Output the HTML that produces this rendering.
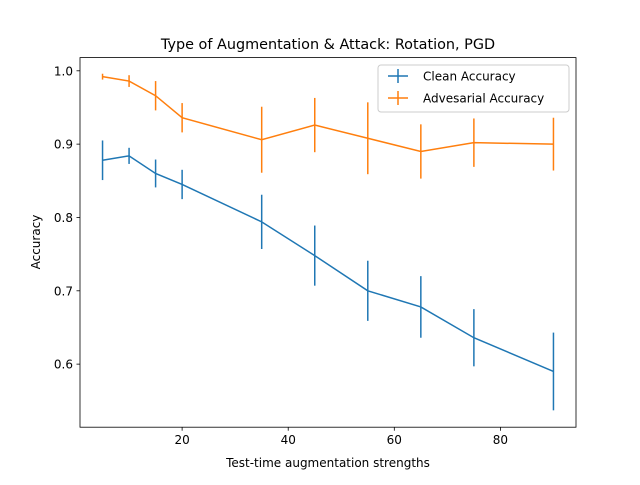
<!DOCTYPE html>
<html><head><meta charset="utf-8"><style>body{margin:0;background:#fff}svg{font-family:"DejaVu Sans","Liberation Sans",sans-serif}</style></head>
<body>
<svg id="chart" width="640" height="480" viewBox="0 0 640 480">
<rect width="640" height="480" fill="#fff"/>
<text x="328" y="49" font-size="14.4" text-anchor="middle">Type of Augmentation &amp; Attack: Rotation, PGD</text>
<text x="328" y="467" font-size="12" text-anchor="middle">Test-time augmentation strengths</text>
<text x="0" y="0" font-size="12" text-anchor="middle" transform="translate(40,242) rotate(-90)">Accuracy</text>
<g id="plot"></g>
<rect x="80" y="57.6" width="496" height="369.6" fill="none" stroke="#000" stroke-width="0.8"/>
<g>
<rect x="378" y="65" width="191" height="47" fill="#fff" fill-opacity="0.8" stroke="#ccc" rx="3"/>
<g><line x1="388" x2="408" y1="76" y2="76" stroke="#1f77b4" stroke-width="1.5"/><line x1="398" x2="398" y1="69" y2="83" stroke="#1f77b4" stroke-width="1.5"/><text x="423" y="80.5" font-size="12">Clean Accuracy</text></g>
<g><line x1="388" x2="408" y1="98" y2="98" stroke="#ff7f0e" stroke-width="1.5"/><line x1="398" x2="398" y1="91" y2="105" stroke="#ff7f0e" stroke-width="1.5"/><text x="423" y="102.5" font-size="12">Advesarial Accuracy</text></g>
</g>
</svg>
<script>
const xValues=[5,10,15,20,35,45,55,65,75,90];
const cleanAcc=[0.878,0.884,0.860,0.845,0.794,0.748,0.700,0.678,0.636,0.590];
const cleanErr=[0.027,0.011,0.019,0.020,0.037,0.041,0.041,0.042,0.039,0.053];
const advAcc=[0.992,0.986,0.966,0.936,0.906,0.926,0.908,0.890,0.902,0.900];
const advErr=[0.004,0.008,0.020,0.020,0.045,0.037,0.049,0.037,0.033,0.036];
const xTicks=[20,40,60,80];
const yTicks=[0.6,0.7,0.8,0.9,1.0];
const NS="http://www.w3.org/2000/svg";
const X0=80,X1=576,Y0=427.2,Y1=57.6;
const xmin=0.75,xmax=94.25;
const ymin=0.514,ymax=1.018;
const sx=v=>X0+(v-xmin)/(xmax-xmin)*(X1-X0);
const sy=v=>Y0-(v-ymin)/(ymax-ymin)*(Y0-Y1);
const g=document.getElementById('plot');
function mk(t,a){const e=document.createElementNS(NS,t);for(const k in a)e.setAttribute(k,a[k]);g.appendChild(e);return e;}
xTicks.forEach(t=>{
const l=mk('line',{x1:sx(t),x2:sx(t),y1:Y0,y2:Y0+3.5,stroke:'#000','stroke-width':0.8});


const tx=mk('text',{x:sx(t),y:Y0+17,'font-size':12,'text-anchor':'middle'});tx.textContent=t;


});
yTicks.forEach(t=>{
const l=mk('line',{x1:X0-3.5,x2:X0,y1:sy(t),y2:sy(t),stroke:'#000','stroke-width':0.8});


const tx=mk('text',{x:X0-7,y:sy(t)+4.5,'font-size':12,'text-anchor':'end'});tx.textContent=t.toFixed(1);


});
function series(vals,errs,color,name){
vals.forEach((v,i)=>{
const e=mk('line',{x1:sx(xValues[i]),x2:sx(xValues[i]),y1:sy(v-errs[i]),y2:sy(v+errs[i]),stroke:color,'stroke-width':1.5});


});
const p=mk('polyline',{points:vals.map((v,i)=>sx(xValues[i])+','+sy(v)).join(' '),fill:'none',stroke:color,'stroke-width':1.5});


}
series(cleanAcc,cleanErr,'#1f77b4','clean-accuracy');
series(advAcc,advErr,'#ff7f0e','adversarial-accuracy');
</script>
</body></html>
